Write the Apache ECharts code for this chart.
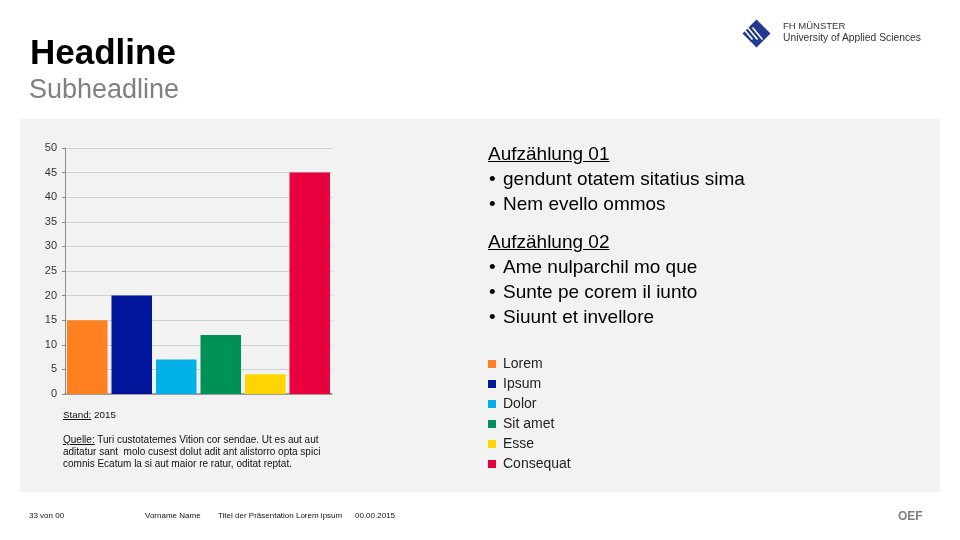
<!DOCTYPE html>
<html>
<head>
<meta charset="utf-8">
<script src="https://cdn.jsdelivr.net/npm/echarts@6/dist/echarts.min.js"></script>
<style>
html,body{margin:0;padding:0;background:#fff;}
#wrap{position:relative;width:960px;height:540px;overflow:hidden;font-family:"Liberation Sans",Arial,sans-serif;}
#panel{position:absolute;left:20px;top:119px;width:920px;height:373px;background:#f2f2f2;}
#chart{position:absolute;left:0;top:0;width:960px;height:540px;}
.t{position:absolute;white-space:nowrap;line-height:1;}
.u{text-decoration:underline;}
</style>
</head>
<body>
<div id="wrap">
  <div id="panel"></div>
  <div id="chart"></div>
  <div class="t" style="left:30px;top:34px;font-size:35px;font-weight:bold;color:#000;">Headline</div>
  <div class="t" style="left:29px;top:76px;font-size:27px;color:#808080;">Subheadline</div>

  <div class="t" style="left:783px;top:21px;font-size:9.5px;color:#333;">FH MÜNSTER</div>
  <div class="t" style="left:783px;top:33px;font-size:10.3px;color:#333;">University of Applied Sciences</div>

  <div id="bullets"></div>

  <div class="t" style="left:63px;top:410px;font-size:9.8px;color:#111;"><span class="u">Stand:</span> 2015</div>
  <div class="t" style="left:63px;top:434px;font-size:10px;color:#111;line-height:12px;"><span class="u">Quelle:</span> Turi custotatemes Vition cor sendae. Ut es aut aut<br>aditatur sant &nbsp;molo cusest dolut adit ant alistorro opta spici<br>comnis Ecatum la si aut maior re ratur, oditat reptat.</div>

  <div class="t" style="left:29px;top:512px;font-size:8px;color:#111;">33 von 00</div>
  <div class="t" style="left:145px;top:512px;font-size:8px;color:#111;">Vorname Name</div>
  <div class="t" style="left:218px;top:512px;font-size:8px;color:#111;">Titel der Präsentation Lorem ipsum</div>
  <div class="t" style="left:355px;top:512px;font-size:8px;color:#111;">00.00.2015</div>
  <div class="t" style="left:898px;top:510px;font-size:12px;font-weight:bold;color:#808080;">OEF</div>
</div>
<script>
// ---- data ----
var categories = ['Lorem', 'Ipsum', 'Dolor', 'Sit amet', 'Esse', 'Consequat'];
var values = [15, 20, 7, 12, 4, 45];
var colors = ['#FF8020', '#00179B', '#00B0E6', '#009157', '#FFD500', '#E8003F'];
var yTicks = [0, 5, 10, 15, 20, 25, 30, 35, 40, 45, 50];
var bulletHeads = ['Aufzählung 01', 'Aufzählung 02'];
var bulletItems1 = ['gendunt otatem sitatius sima', 'Nem evello ommos'];
var bulletItems2 = ['Ame nulparchil mo que', 'Sunte pe corem il iunto', 'Siuunt et invellore'];

// ---- bullet text ----
(function(){
  var box = document.getElementById('bullets');
  var html = '';
  function line(top, txt, head){
    if (head) {
      html += '<div class="t u" style="left:488px;top:' + top + 'px;font-size:19px;color:#000;">' + txt + '</div>';
    } else {
      html += '<div class="t" style="left:489px;top:' + top + 'px;font-size:19px;color:#000;">•</div>';
      html += '<div class="t" style="left:503px;top:' + top + 'px;font-size:19px;color:#000;">' + txt + '</div>';
    }
  }
  var top = 144;
  line(top, bulletHeads[0], true);
  bulletItems1.forEach(function(t, i){ line(top + 25 * (i + 1), t, false); });
  top = 232;
  line(top, bulletHeads[1], true);
  bulletItems2.forEach(function(t, i){ line(top + 25 * (i + 1), t, false); });
  box.innerHTML = html;
})();

// ---- chart ----
var chart = echarts.init(document.getElementById('chart'), null, {renderer: 'canvas'});
var series = categories.map(function(name, i){
  return {
    name: name,
    type: 'bar',
    stack: 'all',
    barCategoryGap: '9%',
    itemStyle: {color: colors[i]},
    data: values.map(function(v, j){ return j === i ? v : '-'; })
  };
});

// FH logo (diamond with stripes)
var cx = 756.5, cy = 33.5, r = 14;
var logo = [{
  type: 'polygon',
  shape: {points: [[cx, cy - r], [cx + r, cy], [cx, cy + r], [cx - r, cy]]},
  style: {fill: '#24398f'}
}];
[-6, -1, 4].forEach(function(o){
  logo.push({
    type: 'line',
    shape: {x1: cx - 8 + o, y1: cy - 6, x2: cx + 2 + o, y2: cy + 6},
    style: {stroke: '#ffffff', lineWidth: 1.6}
  });
});

chart.setOption({
  animation: false,
  textStyle: {fontFamily: 'Liberation Sans, Arial, sans-serif'},
  grid: {left: 65, right: 628, top: 148, bottom: 146, containLabel: false},
  legend: {
    orient: 'vertical',
    left: 483,
    top: 352,
    icon: 'rect',
    itemWidth: 8,
    itemHeight: 8,
    itemGap: 6,
    textStyle: {fontSize: 14, color: '#222', padding: [0, 0, 0, 2]},
    data: categories
  },
  xAxis: {
    type: 'category',
    data: categories,
    axisLine: {lineStyle: {color: '#8c8c8c', width: 1.5}},
    axisTick: {show: false},
    axisLabel: {show: false}
  },
  yAxis: {
    type: 'value',
    min: yTicks[0],
    max: yTicks[yTicks.length - 1],
    interval: 5,
    axisLine: {show: true, lineStyle: {color: '#8c8c8c', width: 1}},
    axisTick: {show: true, length: 3, lineStyle: {color: '#8c8c8c'}},
    axisLabel: {fontSize: 11, color: '#333', margin: 8},
    splitLine: {lineStyle: {color: '#cfcfcf'}}
  },
  graphic: logo,
  series: series
});
</script>
</body>
</html>
